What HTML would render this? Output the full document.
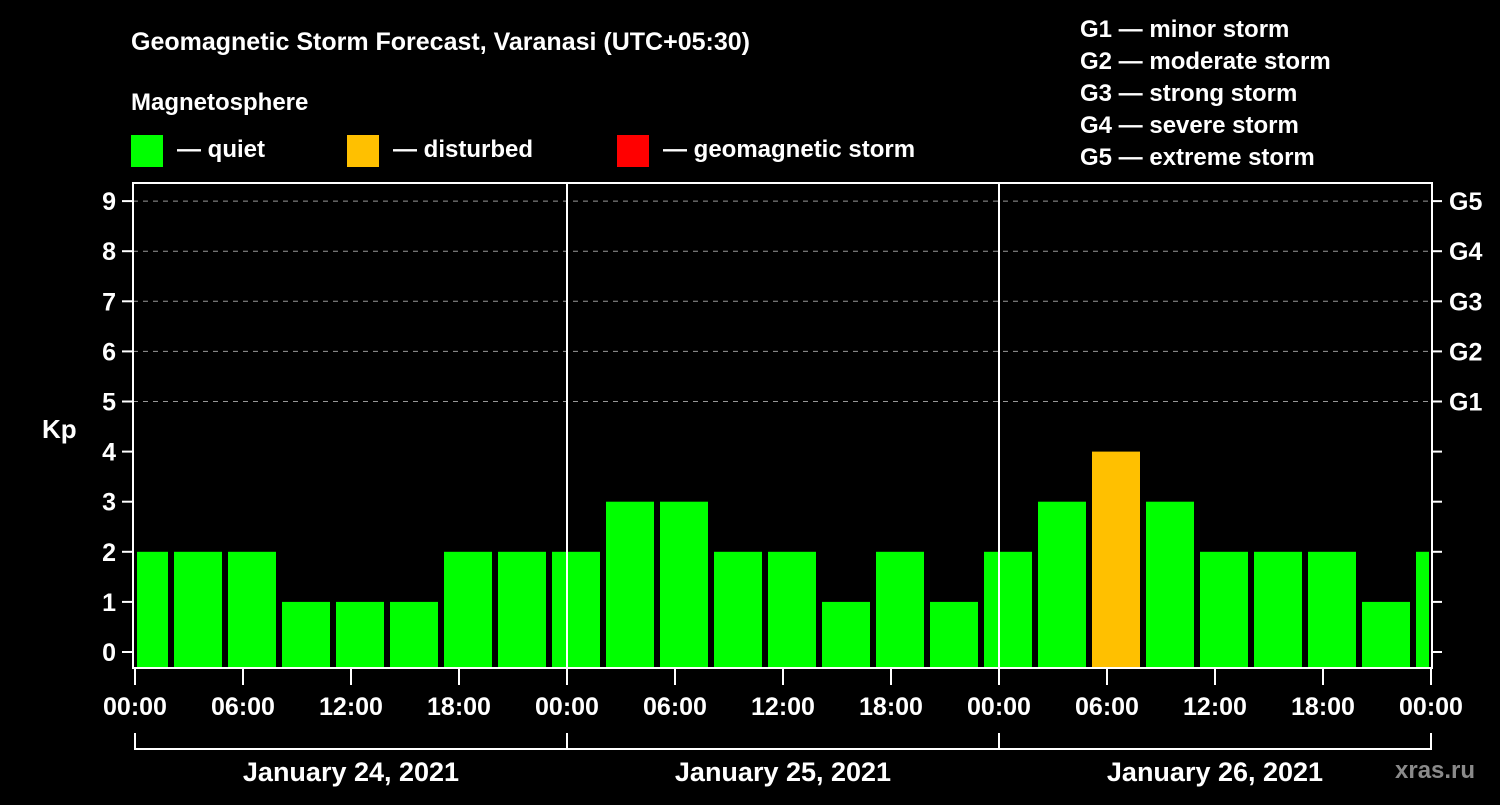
<!DOCTYPE html>
<html><head><meta charset="utf-8"><style>
body{margin:0;background:#000;width:1500px;height:800px;overflow:hidden}
svg text{font-family:"Liberation Sans",sans-serif;font-weight:bold;fill:#fff}
</style></head><body>
<svg id="c" width="1500" height="800">
<text x="131" y="50" font-size="25">Geomagnetic Storm Forecast, Varanasi (UTC+05:30)</text>
<text x="131" y="110" font-size="24">Magnetosphere</text>
<g><rect x="131" y="135" width="32" height="32" fill="#00ff00"/><text x="177" y="157" font-size="24">— quiet</text></g>
<g><rect x="347" y="135" width="32" height="32" fill="#ffc000"/><text x="393" y="157" font-size="24">— disturbed</text></g>
<g><rect x="617" y="135" width="32" height="32" fill="#ff0000"/><text x="663" y="157" font-size="24">— geomagnetic storm</text></g>
<g font-size="24">
<text x="1080" y="37">G1 — minor storm</text><text x="1080" y="69">G2 — moderate storm</text><text x="1080" y="101">G3 — strong storm</text><text x="1080" y="133">G4 — severe storm</text><text x="1080" y="165">G5 — extreme storm</text></g>
<text x="42" y="438" font-size="26">Kp</text>
<text x="1395" y="778" font-size="24" fill="#888" style="fill:#8a8a8a">xras.ru</text>
<g id="g"></g>
</svg>
<script>
const kpValues=[2,2,2,1,1,1,2,2,2,3,3,2,2,1,2,1,2,3,4,3,2,2,2,1,2];
const barHoursOffset=0.5;
const yTicks=[0,1,2,3,4,5,6,7,8,9];
const gLabels=["G1","G2","G3","G4","G5"];
const xTickLabels=["00:00","06:00","12:00","18:00","00:00","06:00","12:00","18:00","00:00","06:00","12:00","18:00","00:00"];
const dayLabels=["January 24, 2021","January 25, 2021","January 26, 2021"];
const NS="http://www.w3.org/2000/svg",g=document.getElementById('g');
const X0=135,XW=18,L=133,R=1432,T=183,B=668;
const x=h=>X0+h*XW, y=v=>652-v*50.1;
function mk(t,a,txt){const e=document.createElementNS(NS,t);for(const k in a)e.setAttribute(k,a[k]);if(txt!=null)e.textContent=txt;g.appendChild(e);return e;}
const defs=mk('clipPath',{id:'cp'});const cr=document.createElementNS(NS,'rect');cr.setAttribute('x',137);cr.setAttribute('y',T);cr.setAttribute('width',1292);cr.setAttribute('height',B-T);defs.appendChild(cr);
// grid
for(let v=5;v<=9;v++){const e=mk('line',{x1:L,x2:R,y1:y(v),y2:y(v),stroke:'#999','stroke-dasharray':'5,5','stroke-width':1});

}
// bars
kpValues.forEach((v,i)=>{const c=x(barHoursOffset+i*3);const col=v>=5?'#ff0000':v>=4?'#ffc000':'#00ff00';
const e=mk('rect',{x:c-24,y:y(v),width:48,height:B-y(v),fill:col,'clip-path':'url(#cp)'});

});
// day lines
for(let d=1;d<3;d++){const e=mk('line',{x1:x(d*24),x2:x(d*24),y1:T,y2:B,stroke:'#fff','stroke-width':2});

}
// frame
const fr=mk('rect',{x:L,y:T,width:R-L,height:B-T,fill:'none',stroke:'#fff','stroke-width':2});


// y ticks
yTicks.forEach(v=>{mk('line',{x1:122,x2:L,y1:y(v),y2:y(v),stroke:'#fff','stroke-width':2});
mk('line',{x1:R,x2:1442,y1:y(v),y2:y(v),stroke:'#fff','stroke-width':2});
const t=mk('text',{x:116,y:y(v)+9,'font-size':25,'text-anchor':'end'},String(v));

});
gLabels.forEach((s,i)=>{const t=mk('text',{x:1449,y:y(5+i)+9,'font-size':25},s);

});
// x ticks
xTickLabels.forEach((s,i)=>{const xx=x(i*6);mk('line',{x1:xx,x2:xx,y1:B,y2:685,stroke:'#fff','stroke-width':2});
const t=mk('text',{x:xx,y:715,'font-size':25,'text-anchor':'middle'},s);

});
mk('line',{x1:x(0),x2:x(72),y1:749,y2:749,stroke:'#fff','stroke-width':2});
for(let d=0;d<=3;d++)mk('line',{x1:x(d*24),x2:x(d*24),y1:733,y2:750,stroke:'#fff','stroke-width':2});
dayLabels.forEach((s,i)=>{const t=mk('text',{x:x(i*24+12),y:781,'font-size':27,'text-anchor':'middle'},s);

});
</script>
</body></html>
